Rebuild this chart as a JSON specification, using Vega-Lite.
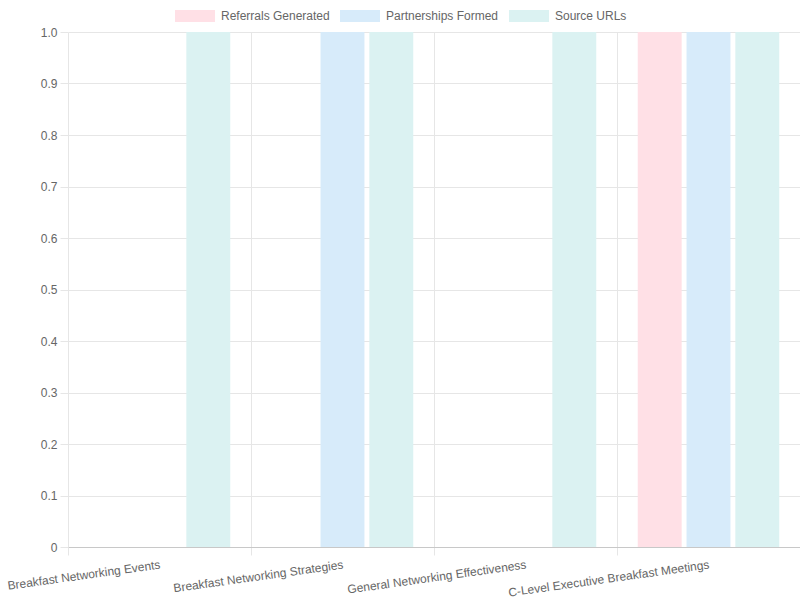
{
  "$schema": "https://vega.github.io/schema/vega-lite/v6.json",
  "width": 732,
  "height": 515,
  "autosize": {"type": "none"},
  "padding": {"left": 68, "top": 32, "right": 0, "bottom": 53},
  "background": "white",
  "config": {
    "view": {"stroke": null},
    "font": "Liberation Sans",
    "axis": {"labelFont": "Liberation Sans", "labelFontSize": 12, "labelColor": "#666666"},
    "legend": {"labelFont": "Liberation Sans", "labelFontSize": 12, "labelColor": "#666666"}
  },
  "data": {
    "values": [
      {"topic": "Breakfast Networking Events", "series": "Referrals Generated", "value": 0},
      {"topic": "Breakfast Networking Events", "series": "Partnerships Formed", "value": 0},
      {"topic": "Breakfast Networking Events", "series": "Source URLs", "value": 1},
      {"topic": "Breakfast Networking Strategies", "series": "Referrals Generated", "value": 0},
      {"topic": "Breakfast Networking Strategies", "series": "Partnerships Formed", "value": 1},
      {"topic": "Breakfast Networking Strategies", "series": "Source URLs", "value": 1},
      {"topic": "General Networking Effectiveness", "series": "Referrals Generated", "value": 0},
      {"topic": "General Networking Effectiveness", "series": "Partnerships Formed", "value": 0},
      {"topic": "General Networking Effectiveness", "series": "Source URLs", "value": 1},
      {"topic": "C-Level Executive Breakfast Meetings", "series": "Referrals Generated", "value": 1},
      {"topic": "C-Level Executive Breakfast Meetings", "series": "Partnerships Formed", "value": 1},
      {"topic": "C-Level Executive Breakfast Meetings", "series": "Source URLs", "value": 1}
    ]
  },
  "layer": [
    {
      "mark": {"type": "rule", "opacity": 0},
      "encoding": {
        "x": {
          "field": "topic", "type": "nominal", "sort": null,
          "scale": {"paddingInner": 0, "paddingOuter": 0},
          "axis": {
            "orient": "bottom",
            "title": null, "labels": false, "bandPosition": 0,
            "grid": true, "gridColor": "#e6e6e6", "gridWidth": 1,
            "ticks": true, "tickSize": 8, "tickColor": "#e6e6e6", "tickBand": "extent",
            "domain": true, "domainColor": "#c8c8c8"
          }
        }
      }
    },
    {
      "mark": {"type": "bar", "strokeWidth": 1},
      "encoding": {
        "x": {
          "field": "topic", "type": "nominal", "sort": null,
          "axis": {
            "orient": "bottom",
            "title": null, "labelAngle": -8, "labelAlign": "right", "labelBaseline": "top",
            "labelColor": "#666666",
            "ticks": false, "tickSize": 8, "labelPadding": 12, "domain": false, "grid": false,
            "labelLimit": 400
          }
        },
        "xOffset": {
          "field": "series", "type": "nominal",
          "scale": {"domain": ["Referrals Generated", "Partnerships Formed", "Source URLs"], "paddingInner": 0.1, "paddingOuter": 0.425}
        },
        "y": {
          "field": "value", "type": "quantitative",
          "scale": {"domain": [0, 1], "nice": false},
          "axis": {
            "title": null, "values": [0, 0.1, 0.2, 0.3, 0.4, 0.5, 0.6, 0.7, 0.8, 0.9, 1],
            "labelExpr": "datum.value == 0 ? '0' : format(datum.value, '.1f')",
            "labelColor": "#666666",
            "grid": true, "gridColor": "#e6e6e6", "tickColor": "#e6e6e6", "tickSize": 8,
            "domain": false, "labelPadding": 3
          }
        },
        "color": {
          "field": "series", "type": "nominal",
          "scale": {
            "domain": ["Referrals Generated", "Partnerships Formed", "Source URLs"],
            "range": ["#ffe0e6", "#d7ebfa", "#dbf2f2"]
          },
          "legend": {
            "title": null, "orient": "none", "direction": "horizontal",
            "legendX": 107, "legendY": -36, "padding": 0,
            "symbolType": "M-1,-0.3L1,-0.3L1,0.3L-1,0.3Z", "symbolSize": 1600,
            "symbolStrokeWidth": 0, "symbolOpacity": 1,
            "labelOffset": 6, "columnPadding": 10
          }
        }
      }
    }
  ],
  "resolve": {"axis": {"x": "independent"}}
}
